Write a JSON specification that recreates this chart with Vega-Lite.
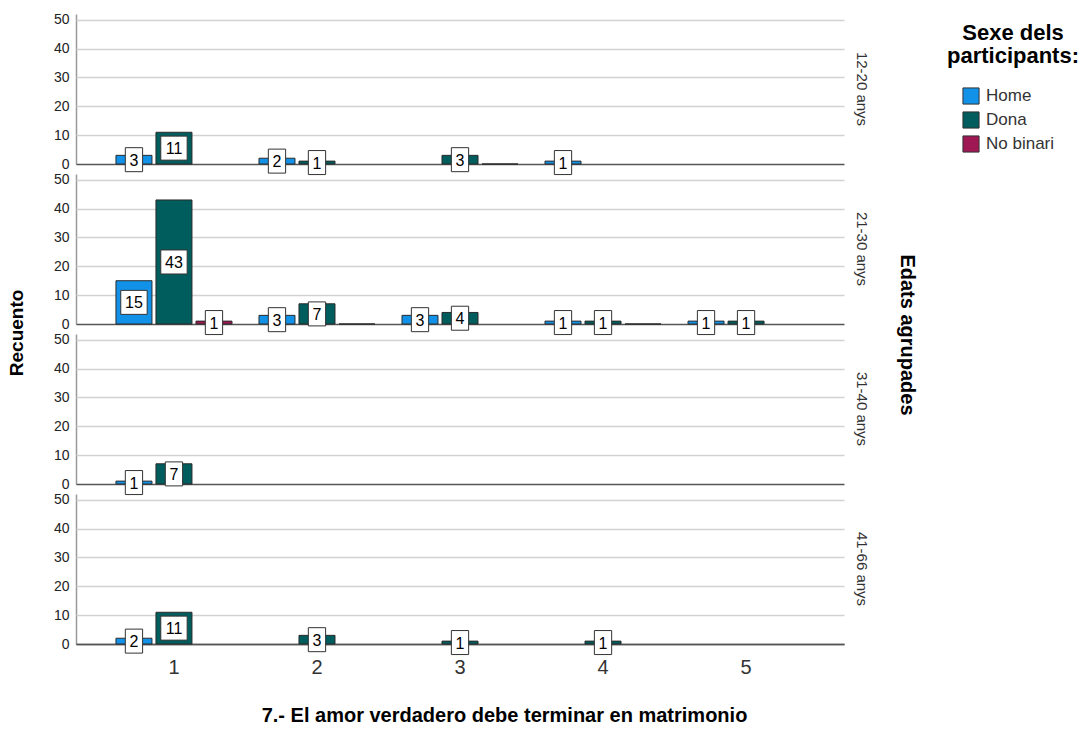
{
  "$schema": "https://vega.github.io/schema/vega-lite/v6.json",
  "padding": {"left": 8, "top": 12, "right": 4, "bottom": 4},
  "bounds": "flush",
  "title": {"text": "Recuento", "orient": "left", "anchor": "middle", "fontSize": 19, "fontWeight": "bold", "font": "Liberation Sans", "color": "#000", "offset": 26, "dx": 36},
  "data": {"values": [
    {"age": "12-20 anys", "q": "1", "sexe": "Home", "n": 3},
    {"age": "12-20 anys", "q": "1", "sexe": "Dona", "n": 11},
    {"age": "12-20 anys", "q": "2", "sexe": "Home", "n": 2},
    {"age": "12-20 anys", "q": "2", "sexe": "Dona", "n": 1},
    {"age": "12-20 anys", "q": "3", "sexe": "Dona", "n": 3},
    {"age": "12-20 anys", "q": "3", "sexe": "No binari", "n": 0},
    {"age": "12-20 anys", "q": "4", "sexe": "Home", "n": 1},
    {"age": "21-30 anys", "q": "1", "sexe": "Home", "n": 15},
    {"age": "21-30 anys", "q": "1", "sexe": "Dona", "n": 43},
    {"age": "21-30 anys", "q": "1", "sexe": "No binari", "n": 1},
    {"age": "21-30 anys", "q": "2", "sexe": "Home", "n": 3},
    {"age": "21-30 anys", "q": "2", "sexe": "Dona", "n": 7},
    {"age": "21-30 anys", "q": "2", "sexe": "No binari", "n": 0},
    {"age": "21-30 anys", "q": "3", "sexe": "Home", "n": 3},
    {"age": "21-30 anys", "q": "3", "sexe": "Dona", "n": 4},
    {"age": "21-30 anys", "q": "4", "sexe": "Home", "n": 1},
    {"age": "21-30 anys", "q": "4", "sexe": "Dona", "n": 1},
    {"age": "21-30 anys", "q": "4", "sexe": "No binari", "n": 0},
    {"age": "21-30 anys", "q": "5", "sexe": "Home", "n": 1},
    {"age": "21-30 anys", "q": "5", "sexe": "Dona", "n": 1},
    {"age": "31-40 anys", "q": "1", "sexe": "Home", "n": 1},
    {"age": "31-40 anys", "q": "1", "sexe": "Dona", "n": 7},
    {"age": "41-66 anys", "q": "1", "sexe": "Home", "n": 2},
    {"age": "41-66 anys", "q": "1", "sexe": "Dona", "n": 11},
    {"age": "41-66 anys", "q": "2", "sexe": "Dona", "n": 3},
    {"age": "41-66 anys", "q": "3", "sexe": "Dona", "n": 1},
    {"age": "41-66 anys", "q": "4", "sexe": "Dona", "n": 1}
  ]},
  "transform": [{"calculate": "datum.n / 2", "as": "mid"}],
  "facet": {
    "row": {
      "field": "age", "type": "nominal",
      "sort": ["12-20 anys", "21-30 anys", "31-40 anys", "41-66 anys"],
      "title": "Edats agrupades",
      "header": {
        "labelOrient": "right", "labelAngle": 90, "labelFontSize": 15, "labelColor": "#333", "labelPadding": 10,
        "titleOrient": "right", "titleAngle": 90, "titleFontSize": 20, "titleFontWeight": "bold", "titleColor": "#000", "titlePadding": 18
      }
    }
  },
  "spacing": {"row": 10},
  "spec": {
    "width": 768,
    "height": 150,
    "layer": [
      {
        "mark": {"type": "bar", "stroke": "#2b2b2b", "strokeWidth": 1},
        "encoding": {
          "x": {"field": "q", "type": "nominal", "title": "7.- El amor verdadero debe terminar en matrimonio",
                "scale": {"domain": ["1", "2", "3", "4", "5"], "paddingInner": 0, "paddingOuter": 0.185},
                "axis": {"labelAngle": 0, "labelFontSize": 20, "labelColor": "#333", "ticks": false, "labelPadding": 13, "domainColor": "#555", "domainWidth": 1.5, "titleFontSize": 20, "titleFontWeight": "bold", "titleColor": "#000", "titlePadding": 28, "titleX": 428, "titleAlign": "center"}},
          "xOffset": {"field": "sexe", "type": "nominal", "scale": {"domain": ["Home", "Dona", "No binari"], "paddingInner": 0.1, "paddingOuter": 0.3375}},
          "y": {"field": "n", "type": "quantitative", "title": null,
                "scale": {"domain": [0, 52], "nice": false},
                "axis": {"values": [0, 10, 20, 30, 40, 50], "labelOverlap": false, "labelFontSize": 14, "labelColor": "#222", "ticks": false, "labelPadding": 7, "domainColor": "#999", "domainWidth": 1.5,
                         "gridColor": {"condition": {"test": "datum.value === 0", "value": "#555"}, "value": "#d2d2d2"}, "gridWidth": 1.5}},
          "color": {"field": "sexe", "type": "nominal",
                    "scale": {"domain": ["Home", "Dona", "No binari"], "range": ["#1192e8", "#005d5d", "#9f1853"]},
                    "legend": {"title": ["Sexe dels", "participants:"], "titleFontSize": 22, "titleFontWeight": "bold", "titleColor": "#000", "titleAlign": "center", "titleAnchor": "middle", "titleLineHeight": 23, "titlePadding": 19,
                               "labelFontSize": 17, "labelColor": "#333", "symbolType": "square", "symbolSize": 260, "symbolStrokeColor": "#333", "symbolStrokeWidth": 1, "symbolOpacity": 1, "symbolOffset": -9, "rowPadding": 2, "labelOffset": 6, "padding": 9, "offset": 21, "orient": "right"}}
        }
      },
      {
        "transform": [{"filter": "datum.n > 0"}],
        "mark": {"type": "point", "filled": true, "fill": "white", "stroke": "#333", "strokeWidth": 1, "opacity": 1, "size": 576},
        "encoding": {
          "x": {"field": "q", "type": "nominal"},
          "xOffset": {"field": "sexe", "type": "nominal"},
          "y": {"field": "mid", "type": "quantitative", "title": null, "scale": {"domain": [0, 52], "nice": false},
                "axis": {"values": [0, 10, 20, 30, 40, 50], "labelOverlap": false, "labelFontSize": 14, "labelColor": "#222", "ticks": false, "labelPadding": 7, "domainColor": "#999", "domainWidth": 1.5,
                         "gridColor": {"condition": {"test": "datum.value === 0", "value": "#555"}, "value": "#d2d2d2"}, "gridWidth": 1.5}},
          "shape": {"condition": {"test": "datum.n >= 10", "value": "M-1.1,-1L1.1,-1L1.1,1L-1.1,1Z"}, "value": "M-0.72,-1L0.72,-1L0.72,1L-0.72,1Z"}
        }
      },
      {
        "transform": [{"filter": "datum.n > 0"}],
        "mark": {"type": "text", "fontSize": 16, "font": "Liberation Sans", "color": "#000", "baseline": "middle", "dy": 1},
        "encoding": {
          "x": {"field": "q", "type": "nominal"},
          "xOffset": {"field": "sexe", "type": "nominal"},
          "y": {"field": "mid", "type": "quantitative", "title": null, "scale": {"domain": [0, 52], "nice": false},
                "axis": {"values": [0, 10, 20, 30, 40, 50], "labelOverlap": false, "labelFontSize": 14, "labelColor": "#222", "ticks": false, "labelPadding": 7, "domainColor": "#999", "domainWidth": 1.5,
                         "gridColor": {"condition": {"test": "datum.value === 0", "value": "#555"}, "value": "#d2d2d2"}, "gridWidth": 1.5}},
          "text": {"field": "n", "type": "quantitative"}
        }
      }
    ]
  },
  "config": {
    "font": "Liberation Sans",
    "view": {"stroke": null}
  }
}
